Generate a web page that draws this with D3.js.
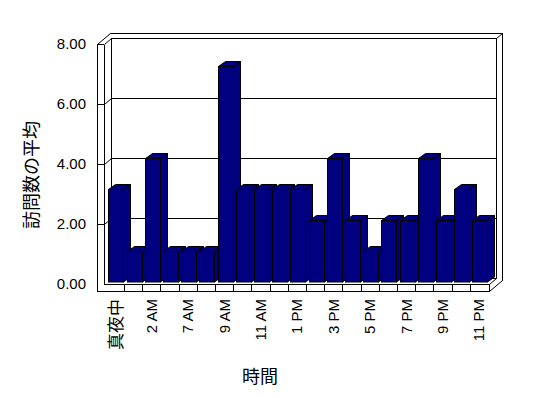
<!DOCTYPE html>
<html>
<head>
<meta charset="utf-8">
<script src="https://cdn.jsdelivr.net/npm/d3@7"></script>
<style>
  body { margin: 0; background: #fff; }
  svg text { font-family: "Liberation Sans", Arial, "Noto Sans CJK JP", sans-serif; fill: #000; }
  svg text.cjk { font-family: "Noto Sans CJK JP", sans-serif; }
</style>
</head>
<body>
<svg id="chart" width="548" height="398"></svg>
<script>
const categories = ['真夜中', '1 AM', '2 AM', '6 AM', '7 AM', '8 AM', '9 AM', '10 AM', '11 AM', '正午',
  '1 PM', '2 PM', '3 PM', '4 PM', '5 PM', '6 PM', '7 PM', '8 PM', '9 PM', '10 PM', '11 PM'];
const values = [3, 1, 4, 1, 1, 1, 7, 3, 3, 3, 3, 2, 4, 2, 1, 2, 2, 4, 2, 3, 2];
const yTicks = [0, 2, 4, 6, 8];

const svg = d3.select('#chart');

// front plane of the plot box, depth to back wall, wall thickness
const left = 104, right = 489, floorY = 284, topY = 44, wall = 7;
const D = [7, -6];
const T = [6, -5];

const x = d3.scaleBand().domain(categories).range([105.8, 488]);
const yFront = d3.scaleLinear().domain([0, 8]).range([floorY, topY]);
const yBar = d3.scaleLinear().domain([0, 8]).range([282, 282 - 8 * 30.9]);

const line = (x1, y1, x2, y2) => svg.append('line')
  .attr('x1', x1).attr('y1', y1).attr('x2', x2).attr('y2', y2)
  .attr('stroke', '#000').attr('stroke-width', 1)
  .attr('shape-rendering', 'crispEdges');

const diag = (x1, y1, x2, y2) => line(x1, y1, x2, y2).attr('shape-rendering', 'auto');

// walls
const bx = left + D[0], bxr = right + D[0];
const outer = [D[0] + T[0], D[1] + T[1]];
line(left - wall + 0.5, topY + 0.5, left - wall + 0.5, floorY + wall + 0.5); // outer left
line(left + 0.5, topY + 0.5, left + 0.5, floorY + 0.5);
line(left - wall, topY + 0.5, left, topY + 0.5);
diag(left - wall + 0.5, topY + 0.5, left - wall + outer[0] + 0.5, topY + outer[1] + 0.5);
diag(left + 0.5, topY + 0.5, bx + 0.5, topY + D[1] + 0.5);
line(bx + 0.5, topY + D[1] + 0.5, bx + 0.5, floorY + D[1] + 0.5); // back corner
line(left - wall + outer[0], topY + outer[1] + 0.5, bxr + T[0] + 0.5, topY + outer[1] + 0.5); // outer top
line(bx, topY + D[1] + 0.5, bxr + 0.5, topY + D[1] + 0.5); // inner top
line(bxr + 0.5, topY + D[1] + 0.5, bxr + 0.5, floorY + D[1] + 0.5);
line(bxr + T[0] + 0.5, topY + outer[1] + 0.5, bxr + T[0] + 0.5, floorY + wall + outer[1] + 0.5);
diag(bxr + 0.5, topY + D[1] + 0.5, bxr + T[0] + 0.5, topY + outer[1] + 0.5);

// floor
line(left, floorY + 0.5, right + 0.5, floorY + 0.5);
line(left - wall, floorY + wall + 0.5, right + 0.5, floorY + wall + 0.5);
line(right + 0.5, floorY + 0.5, right + 0.5, floorY + wall + 0.5);
diag(right + 0.5, floorY + 0.5, bxr + 0.5, floorY + D[1] + 0.5);
diag(right + 0.5, floorY + wall + 0.5, bxr + T[0] + 0.5, floorY + wall + outer[1] + 0.5);
line(bx, floorY + D[1] + 0.5, bxr, floorY + D[1] + 0.5);

// gridlines and value axis
yTicks.forEach(v => {
  const yf = Math.round(yFront(v)) + 0.5;
  if (v > 0 && v < 8) {
    line(left - wall, yf, left, yf);
    diag(left + 0.5, yf, bx + 0.5, yf + D[1]);
    line(bx, yf + D[1], bxr, yf + D[1]);
  }
  svg.append('text')
    .attr('x', 86).attr('y', yFront(v) - 1)
    .attr('text-anchor', 'end').attr('dominant-baseline', 'central')
    .attr('font-size', 15)
    .text(d3.format('.2f')(v));
});

// category ticks on floor front
categories.slice(1).forEach(c => {
  const tx = Math.round(x(c)) + 0.5;
  line(tx, floorY, tx, floorY + wall + 0.5);
});

// bars
const bw = x.bandwidth() * 0.82, inset = 2.5;
const bd = [7, -5];
const bars = svg.append('g').selectAll('g').data(categories).join('g');
bars.each(function (c, i) {
  const g = d3.select(this);
  const x0 = Math.round(x(c) + inset) + 0.5, x1 = x0 + Math.round(bw);
  const y0 = yBar(0), y1 = Math.round(yBar(values[i])) + 0.5;
  const pts = a => a.map(p => p.join(',')).join(' ');
  const style = s => s.attr('fill', '#000080').attr('stroke', '#000').attr('stroke-width', 1)
    .attr('stroke-linejoin', 'miter');
  style(g.append('polygon').attr('points', pts([[x1, y1], [x1 + bd[0], y1 + bd[1]], [x1 + bd[0], y0 + bd[1]], [x1, y0]])));
  style(g.append('polygon').attr('points', pts([[x0, y1], [x0 + bd[0], y1 + bd[1]], [x1 + bd[0], y1 + bd[1]], [x1, y1]])));
  style(g.append('rect').attr('x', x0).attr('y', y1).attr('width', x1 - x0).attr('height', y0 - y1));
});

// category labels (every other one, as in the original)
const isCjk = s => /[\u3040-\u9fff]/.test(s);
svg.append('g').selectAll('text')
  .data(categories.filter((c, i) => i % 2 === 0))
  .join('text')
  .attr('class', c => isCjk(c) ? 'cjk' : null)
  .attr('transform', c => `translate(${x(c) + x.bandwidth() / 2},299) rotate(-90)`)
  .attr('text-anchor', 'end').attr('dominant-baseline', 'central')
  .attr('font-size', c => isCjk(c) ? 17 : 15)
  .text(c => c);

// axis titles
svg.append('text')
  .attr('class', 'cjk')
  .attr('transform', 'translate(30,175) rotate(-90)')
  .attr('text-anchor', 'middle').attr('dominant-baseline', 'central')
  .attr('font-size', 18)
  .text('訪問数の平均');

svg.append('text')
  .attr('class', 'cjk')
  .attr('x', 260).attr('y', 375)
  .attr('text-anchor', 'middle').attr('dominant-baseline', 'central')
  .attr('font-size', 18)
  .text('時間');
</script>
</body>
</html>
